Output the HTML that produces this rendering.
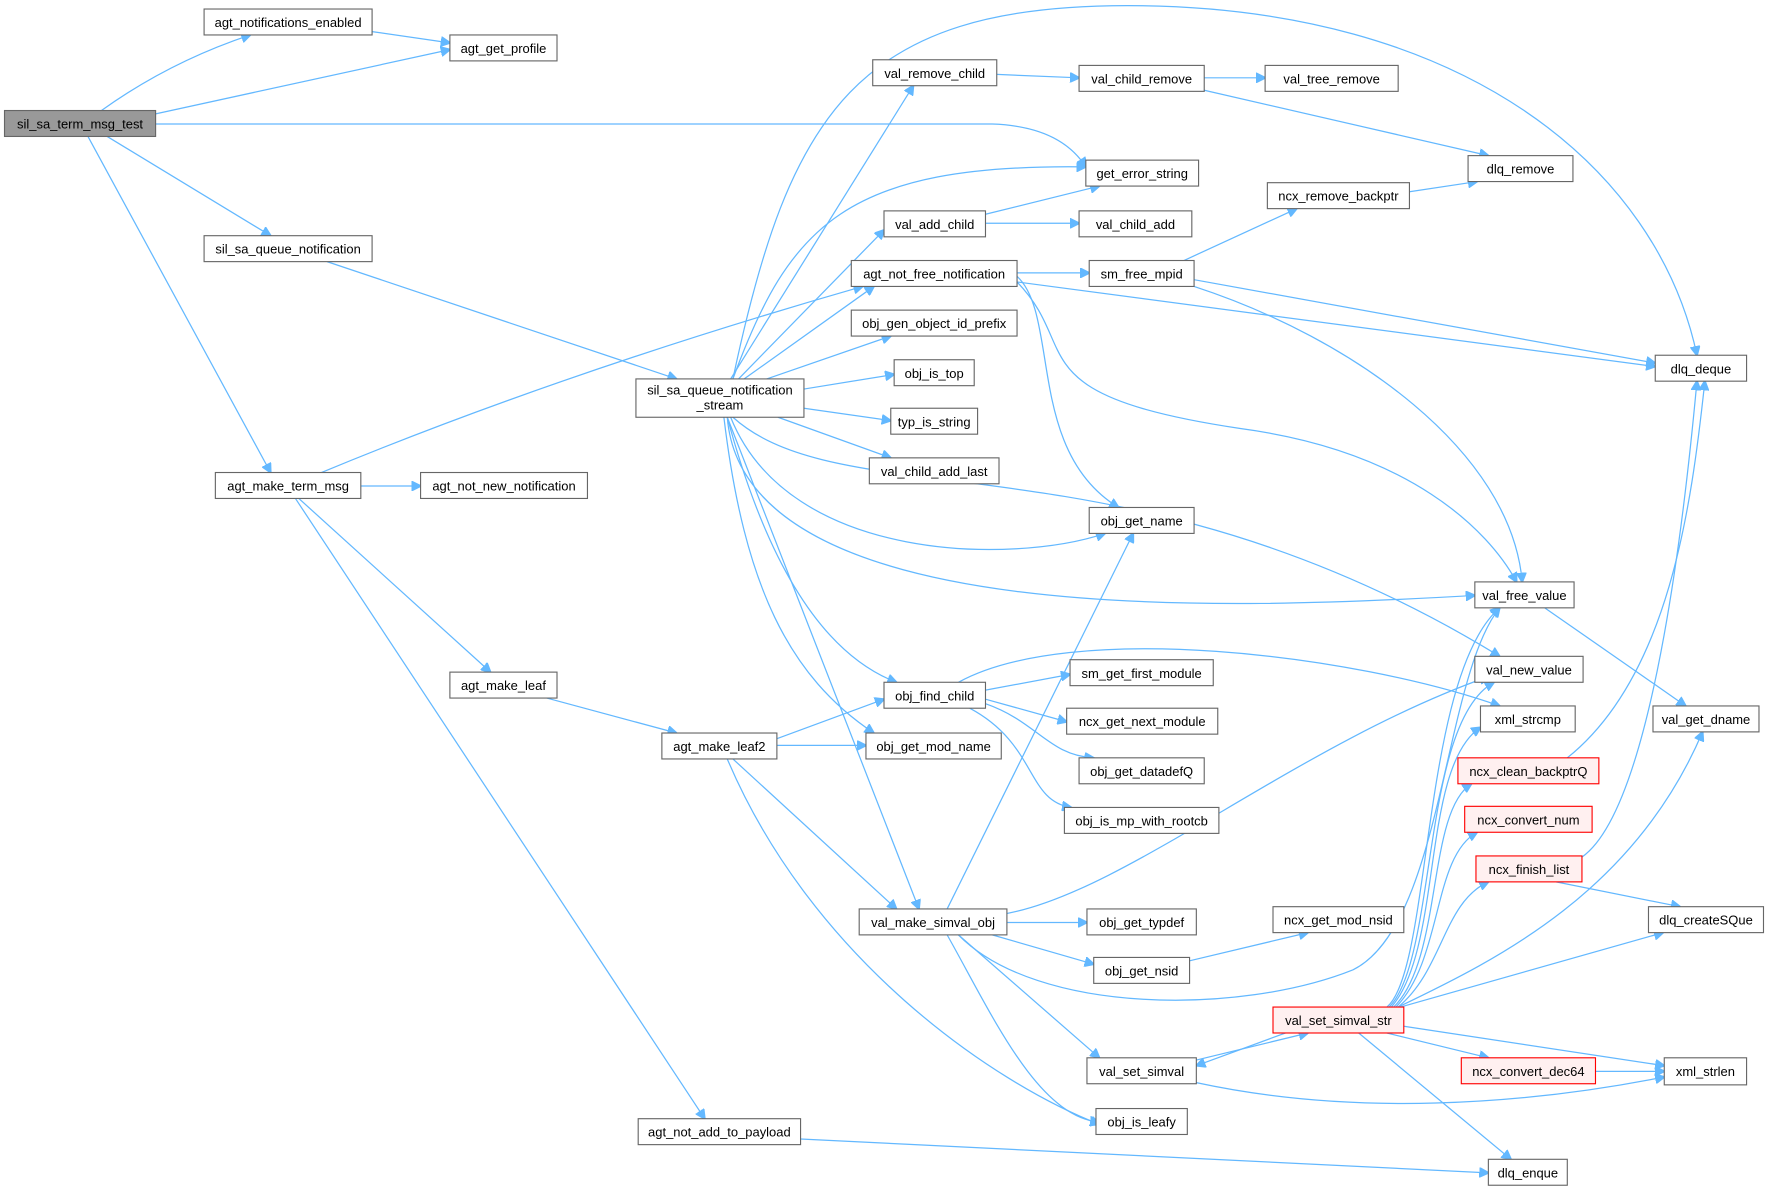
<!DOCTYPE html>
<html><head><meta charset="utf-8"><style>
html,body{margin:0;padding:0;background:#fff;}
svg{display:block;}
text{font-family:"Liberation Sans",Arial,sans-serif;font-size:11.5px;fill:#000;}
.e{fill:none;stroke:#63b8ff;stroke-width:1.1;}
.n rect{fill:#fff;stroke:#666;stroke-width:1;}
.r rect{fill:#fff0f0;stroke:#ff0000;stroke-width:1;}
</style></head><body>
<svg width="1768" height="1192" viewBox="0 0 1568 1057" preserveAspectRatio="none" xmlns="http://www.w3.org/2000/svg">
<defs><marker id="a" viewBox="0 0 10 10" refX="9" refY="5" markerWidth="9" markerHeight="9" orient="auto" markerUnits="userSpaceOnUse"><path d="M0,0 L10,5 L0,10 z" fill="#63b8ff" stroke="#63b8ff"/></marker></defs>
<g marker-end="url(#a)">
<path class="e" d="M90,98 Q150,55 222,31"/>
<path class="e" d="M138,101 L399,44"/>
<path class="e" d="M138,110 L880,110 Q940,112 963,148"/>
<path class="e" d="M95,121 L240,209"/>
<path class="e" d="M78,121 L240,419"/>
<path class="e" d="M330,28 L399,38"/>
<path class="e" d="M290,232 L600,336"/>
<path class="e" d="M285,419 Q500,330 765,254"/>
<path class="e" d="M320,431 L373,431"/>
<path class="e" d="M265,442 L435,596"/>
<path class="e" d="M262,442 L625,992"/>
<path class="e" d="M485,619 L600,650"/>
<path class="e" d="M689,655 L784,620"/>
<path class="e" d="M689,661 L768,661"/>
<path class="e" d="M650,673 L795,806"/>
<path class="e" d="M645,673 C720,850 880,960 975,997"/>
<path class="e" d="M710,1010 L1320,1040"/>
<path class="e" d="M650,336 C700,100 760,5 1000,5 C1300,5 1470,150 1505,315"/>
<path class="e" d="M648,336 L810,76"/>
<path class="e" d="M650,336 C700,200 750,145 963,148"/>
<path class="e" d="M655,336 L784,204"/>
<path class="e" d="M660,336 L775,254"/>
<path class="e" d="M680,336 L790,298"/>
<path class="e" d="M713,345 L793,332"/>
<path class="e" d="M713,362 L790,373"/>
<path class="e" d="M690,370 L790,406"/>
<path class="e" d="M650,370 C750,460 1000,380 1330,582"/>
<path class="e" d="M648,370 C700,500 900,500 980,473"/>
<path class="e" d="M645,370 C660,560 1100,540 1308,528"/>
<path class="e" d="M645,370 C680,500 730,580 795,605"/>
<path class="e" d="M642,370 C660,520 700,600 775,650"/>
<path class="e" d="M645,370 L815,806"/>
<path class="e" d="M884,66 L957,69"/>
<path class="e" d="M1068,69 L1122,69"/>
<path class="e" d="M1068,80 L1320,138"/>
<path class="e" d="M874,190 L975,165"/>
<path class="e" d="M874,198 L957,198"/>
<path class="e" d="M902,242 L966,242"/>
<path class="e" d="M902,250 L1468,325"/>
<path class="e" d="M902,245 C940,280 910,400 992,450"/>
<path class="e" d="M902,250 C960,310 900,350 1100,380 C1250,400 1320,470 1345,516"/>
<path class="e" d="M1050,231 L1150,185"/>
<path class="e" d="M1059,248 L1468,322"/>
<path class="e" d="M1059,254 C1200,300 1340,400 1350,516"/>
<path class="e" d="M1250,170 L1310,161"/>
<path class="e" d="M1370,539 L1495,626"/>
<path class="e" d="M874,612 L949,598"/>
<path class="e" d="M874,620 L946,640"/>
<path class="e" d="M874,624 C920,640 930,670 970,672"/>
<path class="e" d="M860,628 C920,660 910,710 950,716"/>
<path class="e" d="M850,605 C950,550 1200,580 1330,626"/>
<path class="e" d="M840,806 L1005,473"/>
<path class="e" d="M893,810 C1000,790 1150,660 1320,600"/>
<path class="e" d="M893,818 L964,818"/>
<path class="e" d="M880,829 L970,855"/>
<path class="e" d="M850,829 C920,900 1100,900 1200,860 C1280,820 1280,600 1330,539"/>
<path class="e" d="M850,829 L975,938"/>
<path class="e" d="M840,829 C880,900 920,990 975,995"/>
<path class="e" d="M1055,852 L1160,827"/>
<path class="e" d="M1061,940 L1160,916"/>
<path class="e" d="M1140,916 L1061,945"/>
<path class="e" d="M1061,960 C1200,990 1350,980 1476,955"/>
<path class="e" d="M1230,893 C1270,860 1260,600 1330,539"/>
<path class="e" d="M1232,893 C1275,850 1260,640 1325,605"/>
<path class="e" d="M1234,893 C1280,840 1260,680 1313,645"/>
<path class="e" d="M1236,893 C1280,850 1265,720 1305,695"/>
<path class="e" d="M1238,893 C1280,850 1270,760 1310,738"/>
<path class="e" d="M1240,893 C1280,860 1280,800 1320,782"/>
<path class="e" d="M1242,893 L1475,827"/>
<path class="e" d="M1240,893 C1330,850 1450,790 1510,649"/>
<path class="e" d="M1403,760 C1460,720 1490,500 1505,338"/>
<path class="e" d="M1390,672 C1480,600 1500,450 1512,338"/>
<path class="e" d="M1380,782 L1490,804"/>
<path class="e" d="M1245,910 L1476,945"/>
<path class="e" d="M1230,916 L1320,938"/>
<path class="e" d="M1205,916 L1340,1028"/>
<path class="e" d="M1415,950 L1476,950"/>
</g>
<g class="n">
<rect x="4" y="98" width="134" height="23" style="fill:#999"/><text x="71" y="114" text-anchor="middle">sil_sa_term_msg_test</text>
<rect x="181" y="8" width="149" height="23"/><text x="255.5" y="24" text-anchor="middle">agt_notifications_enabled</text>
<rect x="399" y="31" width="95" height="23"/><text x="446.5" y="47" text-anchor="middle">agt_get_profile</text>
<rect x="181" y="209" width="149" height="23"/><text x="255.5" y="225" text-anchor="middle">sil_sa_queue_notification</text>
<rect x="191" y="419" width="129" height="23"/><text x="255.5" y="435" text-anchor="middle">agt_make_term_msg</text>
<rect x="373" y="419" width="148" height="23"/><text x="447" y="435" text-anchor="middle">agt_not_new_notification</text>
<rect x="399" y="596" width="95" height="23"/><text x="446.5" y="612" text-anchor="middle">agt_make_leaf</text>
<rect x="587" y="650" width="102" height="23"/><text x="638" y="666" text-anchor="middle">agt_make_leaf2</text>
<rect x="566" y="992" width="144" height="23"/><text x="638" y="1008" text-anchor="middle">agt_not_add_to_payload</text>
<rect x="564" y="336" width="149" height="34"/><text x="638.5" y="350" text-anchor="middle">sil_sa_queue_notification</text><text x="638.5" y="363" text-anchor="middle">_stream</text>
<rect x="774" y="53" width="110" height="23"/><text x="829" y="69" text-anchor="middle">val_remove_child</text>
<rect x="957" y="58" width="111" height="23"/><text x="1012.5" y="74" text-anchor="middle">val_child_remove</text>
<rect x="1122" y="58" width="118" height="23"/><text x="1181" y="74" text-anchor="middle">val_tree_remove</text>
<rect x="963" y="142" width="100" height="23"/><text x="1013" y="158" text-anchor="middle">get_error_string</text>
<rect x="784" y="187" width="90" height="23"/><text x="829" y="203" text-anchor="middle">val_add_child</text>
<rect x="957" y="187" width="100" height="23"/><text x="1007" y="203" text-anchor="middle">val_child_add</text>
<rect x="755" y="231" width="147" height="23"/><text x="828.5" y="247" text-anchor="middle">agt_not_free_notification</text>
<rect x="755" y="275" width="147" height="23"/><text x="828.5" y="291" text-anchor="middle">obj_gen_object_id_prefix</text>
<rect x="793" y="319" width="71" height="23"/><text x="828.5" y="335" text-anchor="middle">obj_is_top</text>
<rect x="790" y="362" width="77" height="23"/><text x="828.5" y="378" text-anchor="middle">typ_is_string</text>
<rect x="771" y="406" width="115" height="23"/><text x="828.5" y="422" text-anchor="middle">val_child_add_last</text>
<rect x="966" y="450" width="93" height="23"/><text x="1012.5" y="466" text-anchor="middle">obj_get_name</text>
<rect x="784" y="605" width="90" height="23"/><text x="829" y="621" text-anchor="middle">obj_find_child</text>
<rect x="768" y="650" width="120" height="23"/><text x="828" y="666" text-anchor="middle">obj_get_mod_name</text>
<rect x="762" y="806" width="131" height="23"/><text x="827.5" y="822" text-anchor="middle">val_make_simval_obj</text>
<rect x="949" y="585" width="127" height="23"/><text x="1012.5" y="601" text-anchor="middle">sm_get_first_module</text>
<rect x="946" y="628" width="134" height="23"/><text x="1013" y="644" text-anchor="middle">ncx_get_next_module</text>
<rect x="957" y="672" width="111" height="23"/><text x="1012.5" y="688" text-anchor="middle">obj_get_datadefQ</text>
<rect x="944" y="716" width="137" height="23"/><text x="1012.5" y="732" text-anchor="middle">obj_is_mp_with_rootcb</text>
<rect x="964" y="806" width="97" height="23"/><text x="1012.5" y="822" text-anchor="middle">obj_get_typdef</text>
<rect x="970" y="849" width="85" height="23"/><text x="1012.5" y="865" text-anchor="middle">obj_get_nsid</text>
<rect x="964" y="938" width="97" height="23"/><text x="1012.5" y="954" text-anchor="middle">val_set_simval</text>
<rect x="972" y="983" width="81" height="23"/><text x="1012.5" y="999" text-anchor="middle">obj_is_leafy</text>
<rect x="1124" y="162" width="126" height="23"/><text x="1187" y="178" text-anchor="middle">ncx_remove_backptr</text>
<rect x="966" y="231" width="93" height="23"/><text x="1012.5" y="247" text-anchor="middle">sm_free_mpid</text>
<rect x="1129" y="804" width="116" height="23"/><text x="1187" y="820" text-anchor="middle">ncx_get_mod_nsid</text>
<rect x="1302" y="138" width="93" height="23"/><text x="1348.5" y="154" text-anchor="middle">dlq_remove</text>
<rect x="1468" y="315" width="81" height="23"/><text x="1508.5" y="331" text-anchor="middle">dlq_deque</text>
<rect x="1308" y="516" width="88" height="23"/><text x="1352" y="532" text-anchor="middle">val_free_value</text>
<rect x="1308" y="582" width="96" height="23"/><text x="1356" y="598" text-anchor="middle">val_new_value</text>
<rect x="1313" y="626" width="84" height="23"/><text x="1355" y="642" text-anchor="middle">xml_strcmp</text>
<rect x="1320" y="1028" width="70" height="23"/><text x="1355" y="1044" text-anchor="middle">dlq_enque</text>
<rect x="1466" y="626" width="94" height="23"/><text x="1513" y="642" text-anchor="middle">val_get_dname</text>
<rect x="1462" y="804" width="102" height="23"/><text x="1513" y="820" text-anchor="middle">dlq_createSQue</text>
<rect x="1476" y="938" width="73" height="24"/><text x="1512.5" y="954" text-anchor="middle">xml_strlen</text>
</g>
<g class="r">
<rect x="1129" y="893" width="116" height="23"/><text x="1187" y="909" text-anchor="middle">val_set_simval_str</text>
<rect x="1293" y="672" width="125" height="23"/><text x="1355.5" y="688" text-anchor="middle">ncx_clean_backptrQ</text>
<rect x="1299" y="715" width="113" height="23"/><text x="1355.5" y="731" text-anchor="middle">ncx_convert_num</text>
<rect x="1309" y="759" width="94" height="23"/><text x="1356" y="775" text-anchor="middle">ncx_finish_list</text>
<rect x="1296" y="938" width="119" height="23"/><text x="1355.5" y="954" text-anchor="middle">ncx_convert_dec64</text>
</g>
</svg>
</body></html>
